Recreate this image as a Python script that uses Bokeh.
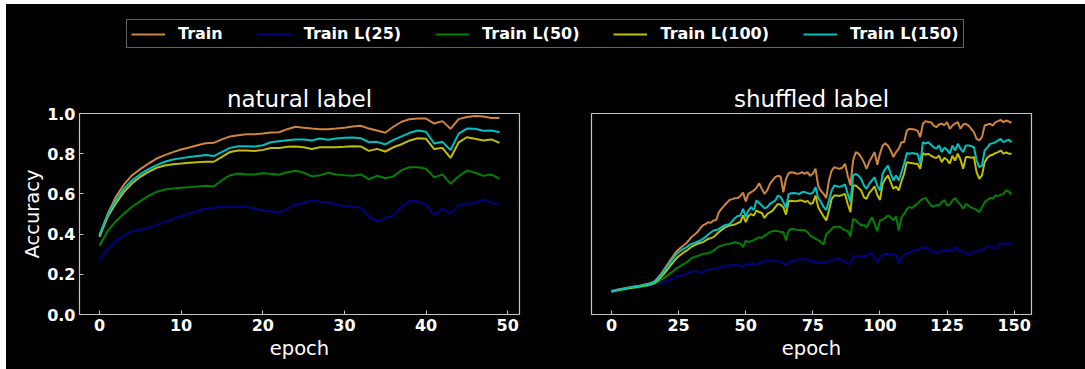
from bokeh.plotting import figure
from bokeh.models import Range1d, Legend, LegendItem, PrintfTickFormatter, FixedTicker
from bokeh.layouts import column, row
from bokeh.embed import file_html
from bokeh.resources import INLINE

# ---------------- data ----------------
series_names = ["Train", "Train L(25)", "Train L(50)", "Train L(100)", "Train L(150)"]
series_colors = ["#cd853f", "#000080", "#008000", "#bfbf00", "#00bfbf"]

natural_epochs = list(range(50))
natural_train = [0.395, 0.50, 0.585, 0.647, 0.693, 0.723, 0.751, 0.776, 0.793, 0.808,
                 0.821, 0.831, 0.842, 0.852, 0.854, 0.871, 0.886, 0.892, 0.897, 0.897,
                 0.900, 0.905, 0.907, 0.922, 0.934, 0.929, 0.925, 0.922, 0.922, 0.925,
                 0.929, 0.935, 0.939, 0.925, 0.915, 0.904, 0.934, 0.959, 0.972, 0.975,
                 0.975, 0.950, 0.962, 0.924, 0.972, 0.983, 0.987, 0.985, 0.978, 0.977]
natural_l25 = [0.275, 0.325, 0.366, 0.395, 0.413, 0.420, 0.431, 0.446, 0.461, 0.476,
               0.488, 0.501, 0.516, 0.527, 0.531, 0.536, 0.534, 0.536, 0.536, 0.527,
               0.517, 0.514, 0.507, 0.527, 0.547, 0.556, 0.567, 0.561, 0.556, 0.547,
               0.539, 0.537, 0.531, 0.486, 0.464, 0.478, 0.494, 0.536, 0.564, 0.564,
               0.544, 0.494, 0.527, 0.502, 0.544, 0.552, 0.554, 0.572, 0.554, 0.552]
natural_l50 = [0.342, 0.415, 0.464, 0.502, 0.536, 0.564, 0.590, 0.610, 0.622, 0.627,
               0.630, 0.633, 0.637, 0.640, 0.637, 0.668, 0.693, 0.701, 0.697, 0.697,
               0.703, 0.700, 0.695, 0.708, 0.715, 0.706, 0.687, 0.693, 0.705, 0.697,
               0.693, 0.690, 0.697, 0.673, 0.690, 0.678, 0.687, 0.718, 0.733, 0.733,
               0.725, 0.682, 0.697, 0.650, 0.688, 0.716, 0.705, 0.690, 0.697, 0.675]
natural_l100 = [0.386, 0.486, 0.552, 0.610, 0.653, 0.685, 0.710, 0.730, 0.741, 0.748,
                0.751, 0.755, 0.758, 0.760, 0.760, 0.784, 0.809, 0.816, 0.816, 0.813,
                0.819, 0.828, 0.828, 0.834, 0.836, 0.832, 0.823, 0.832, 0.832, 0.832,
                0.834, 0.837, 0.836, 0.814, 0.824, 0.811, 0.832, 0.847, 0.866, 0.877,
                0.874, 0.823, 0.829, 0.779, 0.856, 0.882, 0.874, 0.866, 0.871, 0.854]
natural_l150 = [0.395, 0.494, 0.569, 0.627, 0.668, 0.698, 0.723, 0.743, 0.760, 0.771,
                0.778, 0.783, 0.788, 0.793, 0.788, 0.809, 0.829, 0.837, 0.837, 0.836,
                0.842, 0.857, 0.862, 0.867, 0.871, 0.871, 0.866, 0.876, 0.869, 0.876,
                0.879, 0.881, 0.877, 0.857, 0.859, 0.846, 0.869, 0.886, 0.904, 0.915,
                0.909, 0.851, 0.859, 0.818, 0.900, 0.925, 0.924, 0.914, 0.915, 0.907]

shuffled_epochs = list(range(150))
shuffled_train = [0.117, 0.120, 0.123, 0.126, 0.128, 0.131, 0.133, 0.136, 0.138, 0.140,
                  0.142, 0.145, 0.148, 0.151, 0.154, 0.158, 0.165, 0.178, 0.194, 0.212,
                  0.232, 0.252, 0.272, 0.291, 0.310, 0.323, 0.335, 0.346, 0.357, 0.372,
                  0.388, 0.398, 0.410, 0.428, 0.443, 0.450, 0.459, 0.456, 0.468, 0.470,
                  0.509, 0.527, 0.542, 0.556, 0.570, 0.574, 0.578, 0.579, 0.590, 0.607,
                  0.563, 0.600, 0.609, 0.617, 0.630, 0.653, 0.625, 0.600, 0.617, 0.650,
                  0.667, 0.683, 0.690, 0.687, 0.608, 0.675, 0.703, 0.708, 0.705, 0.700,
                  0.702, 0.708, 0.700, 0.708, 0.690, 0.700, 0.725, 0.640, 0.615, 0.600,
                  0.580, 0.667, 0.716, 0.733, 0.728, 0.725, 0.730, 0.750, 0.690, 0.642,
                  0.766, 0.808, 0.800, 0.783, 0.758, 0.725, 0.760, 0.783, 0.808, 0.745,
                  0.800, 0.840, 0.852, 0.840, 0.816, 0.783, 0.808, 0.824, 0.857, 0.857,
                  0.915, 0.924, 0.922, 0.920, 0.915, 0.882, 0.949, 0.962, 0.958, 0.957,
                  0.940, 0.932, 0.945, 0.949, 0.942, 0.957, 0.924, 0.940, 0.950, 0.957,
                  0.924, 0.945, 0.949, 0.940, 0.924, 0.907, 0.874, 0.866, 0.882, 0.940,
                  0.945, 0.949, 0.940, 0.957, 0.962, 0.968, 0.957, 0.965, 0.960, 0.954]
shuffled_l25 = [0.114, 0.116, 0.118, 0.120, 0.122, 0.124, 0.126, 0.128, 0.130, 0.132,
                0.134, 0.136, 0.138, 0.140, 0.142, 0.145, 0.149, 0.152, 0.156, 0.160,
                0.164, 0.168, 0.172, 0.179, 0.186, 0.190, 0.194, 0.198, 0.202, 0.209,
                0.216, 0.215, 0.214, 0.206, 0.210, 0.218, 0.222, 0.225, 0.227, 0.230,
                0.232, 0.236, 0.239, 0.242, 0.244, 0.245, 0.246, 0.244, 0.242, 0.239,
                0.249, 0.252, 0.249, 0.252, 0.245, 0.255, 0.260, 0.265, 0.272, 0.268,
                0.267, 0.265, 0.265, 0.262, 0.255, 0.245, 0.260, 0.265, 0.269, 0.272,
                0.274, 0.273, 0.277, 0.272, 0.266, 0.260, 0.265, 0.260, 0.257, 0.260,
                0.262, 0.265, 0.266, 0.277, 0.280, 0.275, 0.269, 0.262, 0.255, 0.249,
                0.285, 0.294, 0.290, 0.286, 0.294, 0.289, 0.302, 0.305, 0.277, 0.260,
                0.285, 0.295, 0.302, 0.298, 0.302, 0.297, 0.294, 0.252, 0.285, 0.294,
                0.305, 0.310, 0.314, 0.318, 0.322, 0.327, 0.332, 0.335, 0.325, 0.318,
                0.310, 0.305, 0.312, 0.318, 0.316, 0.315, 0.318, 0.320, 0.335, 0.318,
                0.318, 0.310, 0.305, 0.300, 0.297, 0.310, 0.315, 0.318, 0.320, 0.327,
                0.343, 0.338, 0.332, 0.327, 0.343, 0.355, 0.350, 0.348, 0.355, 0.348]
shuffled_l50 = [0.112, 0.115, 0.118, 0.121, 0.123, 0.126, 0.128, 0.130, 0.132, 0.134,
                0.136, 0.138, 0.140, 0.142, 0.145, 0.148, 0.153, 0.161, 0.169, 0.177,
                0.186, 0.196, 0.206, 0.216, 0.227, 0.236, 0.244, 0.252, 0.260, 0.271,
                0.282, 0.287, 0.290, 0.296, 0.302, 0.303, 0.305, 0.310, 0.318, 0.328,
                0.338, 0.342, 0.348, 0.350, 0.352, 0.356, 0.360, 0.356, 0.352, 0.335,
                0.368, 0.360, 0.365, 0.370, 0.378, 0.385, 0.381, 0.393, 0.400, 0.410,
                0.415, 0.415, 0.415, 0.410, 0.410, 0.368, 0.418, 0.426, 0.424, 0.422,
                0.421, 0.421, 0.418, 0.410, 0.393, 0.385, 0.376, 0.370, 0.360, 0.348,
                0.401, 0.410, 0.425, 0.438, 0.435, 0.438, 0.426, 0.420, 0.415, 0.388,
                0.476, 0.468, 0.455, 0.443, 0.445, 0.431, 0.459, 0.484, 0.451, 0.415,
                0.468, 0.472, 0.481, 0.493, 0.485, 0.468, 0.488, 0.418, 0.484, 0.500,
                0.525, 0.534, 0.530, 0.542, 0.551, 0.567, 0.575, 0.580, 0.560, 0.542,
                0.536, 0.545, 0.542, 0.559, 0.570, 0.542, 0.548, 0.567, 0.580, 0.560,
                0.545, 0.526, 0.551, 0.542, 0.531, 0.528, 0.521, 0.509, 0.534, 0.559,
                0.570, 0.580, 0.575, 0.592, 0.590, 0.595, 0.600, 0.617, 0.612, 0.597]
shuffled_l100 = [0.114, 0.117, 0.120, 0.123, 0.125, 0.128, 0.130, 0.132, 0.134, 0.136,
                 0.138, 0.140, 0.143, 0.146, 0.149, 0.153, 0.158, 0.168, 0.181, 0.195,
                 0.210, 0.227, 0.244, 0.260, 0.277, 0.290, 0.300, 0.310, 0.318, 0.328,
                 0.338, 0.345, 0.352, 0.356, 0.360, 0.368, 0.376, 0.380, 0.385, 0.398,
                 0.410, 0.421, 0.431, 0.437, 0.443, 0.445, 0.448, 0.455, 0.460, 0.493,
                 0.460, 0.490, 0.500, 0.492, 0.517, 0.510, 0.505, 0.480, 0.500, 0.508,
                 0.517, 0.534, 0.550, 0.546, 0.534, 0.497, 0.564, 0.566, 0.564, 0.565,
                 0.567, 0.567, 0.560, 0.565, 0.550, 0.555, 0.592, 0.534, 0.510, 0.488,
                 0.468, 0.517, 0.575, 0.592, 0.592, 0.590, 0.595, 0.600, 0.550, 0.509,
                 0.642, 0.642, 0.630, 0.617, 0.584, 0.575, 0.605, 0.620, 0.637, 0.595,
                 0.570, 0.650, 0.675, 0.692, 0.658, 0.625, 0.637, 0.617, 0.663, 0.700,
                 0.758, 0.755, 0.753, 0.750, 0.750, 0.725, 0.803, 0.795, 0.800, 0.790,
                 0.783, 0.778, 0.791, 0.758, 0.780, 0.770, 0.750, 0.790, 0.766, 0.800,
                 0.770, 0.725, 0.783, 0.783, 0.780, 0.783, 0.708, 0.675, 0.692, 0.758,
                 0.780, 0.791, 0.795, 0.803, 0.808, 0.816, 0.800, 0.806, 0.800, 0.800]
shuffled_l150 = [0.116, 0.119, 0.122, 0.125, 0.128, 0.130, 0.133, 0.135, 0.137, 0.139,
                 0.141, 0.144, 0.147, 0.150, 0.153, 0.157, 0.163, 0.175, 0.190, 0.207,
                 0.226, 0.244, 0.262, 0.280, 0.298, 0.310, 0.320, 0.328, 0.335, 0.345,
                 0.352, 0.356, 0.362, 0.368, 0.376, 0.386, 0.398, 0.408, 0.418, 0.420,
                 0.426, 0.435, 0.443, 0.447, 0.450, 0.465, 0.480, 0.490, 0.492, 0.526,
                 0.484, 0.517, 0.534, 0.520, 0.567, 0.555, 0.542, 0.528, 0.534, 0.550,
                 0.559, 0.567, 0.592, 0.584, 0.560, 0.530, 0.600, 0.603, 0.604, 0.602,
                 0.600, 0.609, 0.609, 0.604, 0.600, 0.605, 0.634, 0.580, 0.560, 0.534,
                 0.520, 0.567, 0.617, 0.642, 0.638, 0.635, 0.640, 0.647, 0.600, 0.559,
                 0.692, 0.700, 0.690, 0.675, 0.642, 0.625, 0.650, 0.667, 0.683, 0.640,
                 0.617, 0.700, 0.725, 0.741, 0.700, 0.667, 0.692, 0.667, 0.708, 0.750,
                 0.803, 0.800, 0.803, 0.800, 0.800, 0.750, 0.857, 0.850, 0.857, 0.845,
                 0.832, 0.825, 0.841, 0.808, 0.830, 0.820, 0.800, 0.840, 0.816, 0.849,
                 0.825, 0.808, 0.841, 0.841, 0.838, 0.832, 0.766, 0.733, 0.741, 0.816,
                 0.830, 0.849, 0.852, 0.857, 0.866, 0.874, 0.857, 0.865, 0.869, 0.857]

x_ticks_natural = [0, 10, 20, 30, 40, 50]
x_ticks_shuffled = [0, 25, 50, 75, 100, 125, 150]
y_ticks = [0.0, 0.2, 0.4, 0.6, 0.8, 1.0]

# ---------------- style ----------------
FONT = "DejaVu Sans"
BG = "black"
FG = "white"
EDGE = "#c4c4c4"
BLACK_BG = {"background-color": "black"}


def make_panel(title, x, series, x_range, x_ticks, show_y, width, border_l, border_r):
    p = figure(width=width, height=309,
               x_range=Range1d(*x_range), y_range=Range1d(0, 1),
               output_backend="svg", toolbar_location=None,
               min_border_left=border_l, min_border_right=border_r,
               min_border_top=53, min_border_bottom=55)
    p.background_fill_color = BG
    p.border_fill_color = BG
    p.outline_line_color = EDGE
    p.outline_line_width = 1.2
    p.xgrid.grid_line_color = None
    p.ygrid.grid_line_color = None

    p.title.text = title
    p.title.align = "center"
    p.title.text_font = FONT
    p.title.text_font_size = "23px"
    p.title.text_font_style = "normal"
    p.title.text_color = FG
    p.title.standoff = 3

    for ax in (p.xaxis[0], p.yaxis[0]):
        ax.axis_line_color = None
        ax.major_tick_in = 4
        ax.major_tick_out = 0
        ax.major_tick_line_color = EDGE
        ax.major_tick_line_width = 1
        ax.minor_tick_line_color = None
        ax.major_label_text_font = FONT
        ax.major_label_text_font_size = "16px"
        ax.major_label_text_font_style = "bold"
        ax.major_label_text_color = FG
        ax.axis_label_text_font = FONT
        ax.axis_label_text_font_size = "19.5px"
        ax.axis_label_text_font_style = "normal"
        ax.axis_label_text_color = FG

    p.xaxis.ticker = FixedTicker(ticks=x_ticks)
    p.xaxis.axis_label = "epoch"
    p.xaxis.major_label_standoff = 4
    p.xaxis.axis_label_standoff = 3

    p.yaxis.ticker = FixedTicker(ticks=y_ticks)
    p.yaxis.formatter = PrintfTickFormatter(format="%.1f")
    p.yaxis.major_label_standoff = 4
    p.yaxis.axis_label_standoff = 0
    if show_y:
        p.yaxis.axis_label = "Accuracy"
    else:
        p.yaxis.visible = False

    for ys, c in zip(series, series_colors):
        p.line(x, ys, line_color=c, line_width=2)
    return p


left = make_panel("natural label", natural_epochs,
                  [natural_train, natural_l25, natural_l50, natural_l100, natural_l150],
                  (-2.45, 51.45), x_ticks_natural, True, 549, 73, 36)
right = make_panel("shuffled label", shuffled_epochs,
                   [shuffled_train, shuffled_l25, shuffled_l50, shuffled_l100, shuffled_l150],
                   (-7.45, 156.45), x_ticks_shuffled, False, 530, 36, 54)

# legend strip across both panels
leg = figure(width=1079, height=56, x_range=Range1d(0, 1), y_range=Range1d(0, 1),
             x_axis_type=None, y_axis_type=None, output_backend="svg",
             toolbar_location=None, min_border=0)
leg.background_fill_color = BG
leg.border_fill_color = BG
leg.outline_line_color = None
leg.xgrid.grid_line_color = None
leg.ygrid.grid_line_color = None
items = []
nan = float("nan")
for name, c in zip(series_names, series_colors):
    r = leg.line([nan, nan], [nan, nan], line_color=c, line_width=2)
    items.append(LegendItem(label=name, renderers=[r]))
legend = Legend(items=items, orientation="horizontal", location=(120, 12),
                label_text_font=FONT, label_text_font_size="16px",
                label_text_font_style="bold", label_text_color=FG,
                background_fill_color=BG, background_fill_alpha=1.0,
                border_line_color=EDGE, border_line_width=1,
                glyph_width=34, glyph_height=16, label_height=16,
                label_standoff=13, spacing=34, padding=4, margin=0)
leg.add_layout(legend)

layout = column(leg, row(left, right, styles=BLACK_BG),
                styles=BLACK_BG, margin=(4, 0, 0, 6))
open("out.html", "w").write(file_html(layout, INLINE))
